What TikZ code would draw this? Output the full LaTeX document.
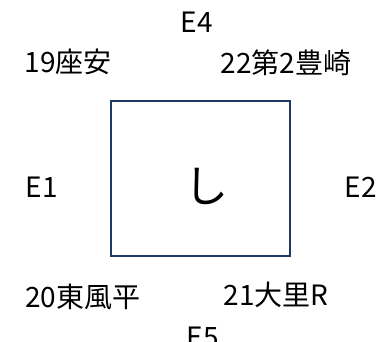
\documentclass[tikz,border=0pt]{standalone}
\usepackage{fontspec}
\newfontfamily\jp{Noto Sans CJK JP}
\definecolor{boxblue}{HTML}{203864}
\begin{document}
\begin{tikzpicture}[x=1pt,y=-1pt,
  lbl/.style={anchor=base,inner sep=0pt,font=\jp\fontsize{28}{32}\selectfont},
  frame/.style={draw=boxblue,line width=2.6pt}]
\useasboundingbox (0,0) rectangle (381,341);
\draw[frame] (111,101) rectangle (290,256);
\node[inner sep=0pt,font=\jp\fontsize{44}{50}\selectfont] (shi) at (206,186) {し};
\node[lbl] (e4) at (197,32) {E4};
\node[lbl] (a19) at (68,72) {19座安};
\node[lbl] (a22) at (286,73) {22第2豊崎};
\node[lbl] (e1) at (42,197) {E1};
\node[lbl] (e2) at (361,197) {E2};
\node[lbl] (a20) at (83,307) {20東風平};
\node[lbl] (a21) at (276,305) {21大里R};
\node[lbl] (e5) at (203,347) {E5};
\end{tikzpicture}
\end{document}
